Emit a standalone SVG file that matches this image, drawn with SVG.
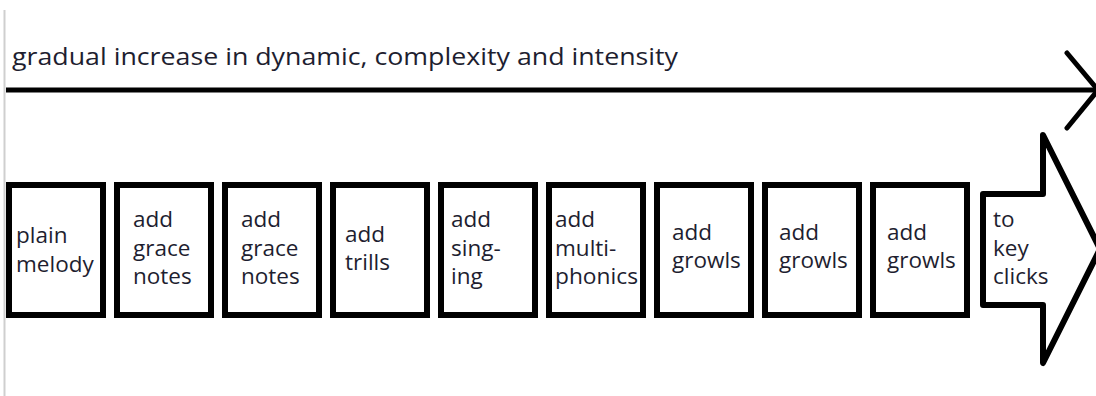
<svg xmlns="http://www.w3.org/2000/svg" width="1096" height="396" viewBox="0 0 1096 396">
<style>
.box{fill:#fff;stroke:#000;stroke-width:6}
.t{font-family:"Open Sans","Liberation Sans",sans-serif;font-size:22.5px;fill:#1e1e30}
.title{font-family:"Open Sans","Liberation Sans",sans-serif;font-size:24px;fill:#1e1e30}
.ln{stroke:#000;stroke-width:5;fill:none}
</style>
<rect width="1096" height="396" fill="#fff"/>
<line x1="4.5" y1="10" x2="4.5" y2="396" stroke="#cfcfcf" stroke-width="2"/>
<text class="title" x="12" y="65" textLength="666" lengthAdjust="spacingAndGlyphs">gradual increase in dynamic, complexity and intensity</text>
<g id="connectors">
<line class="ln" x1="6" y1="90" x2="1096" y2="90"/>
<polyline class="ln" points="1067,53 1098,90 1067,128" stroke-linecap="round"/>
</g>
<g id="n1"><rect class="box" x="9" y="185" width="94" height="130"/><text class="t" x="16" y="243">plain</text><text class="t" x="16" y="272">melody</text></g>
<g id="n2"><rect class="box" x="117" y="185" width="94" height="130"/><text class="t" x="133" y="227">add</text><text class="t" x="133" y="255.5">grace</text><text class="t" x="133" y="284">notes</text></g>
<g id="n3"><rect class="box" x="225" y="185" width="94" height="130"/><text class="t" x="241" y="227">add</text><text class="t" x="241" y="255.5">grace</text><text class="t" x="241" y="284">notes</text></g>
<g id="n4"><rect class="box" x="333" y="185" width="94" height="130"/><text class="t" x="345" y="242">add</text><text class="t" x="345" y="270">trills</text></g>
<g id="n5"><rect class="box" x="441" y="185" width="94" height="130"/><text class="t" x="451" y="227">add</text><text class="t" x="451" y="255.5">sing-</text><text class="t" x="451" y="284">ing</text></g>
<g id="n6"><rect class="box" x="549" y="185" width="94" height="130"/><text class="t" x="555" y="227">add</text><text class="t" x="555" y="255.5">multi-</text><text class="t" x="555" y="284" textLength="83" lengthAdjust="spacingAndGlyphs">phonics</text></g>
<g id="n7"><rect class="box" x="657" y="185" width="94" height="130"/><text class="t" x="672" y="240">add</text><text class="t" x="672" y="268">growls</text></g>
<g id="n8"><rect class="box" x="765" y="185" width="94" height="130"/><text class="t" x="779" y="240">add</text><text class="t" x="779" y="268">growls</text></g>
<g id="n9"><rect class="box" x="873" y="185" width="94" height="130"/><text class="t" x="887" y="240">add</text><text class="t" x="887" y="268">growls</text></g>
<g id="n10"><polygon class="box" stroke-width="5" stroke-linejoin="round" points="983,194 1043,194 1043,135 1100,249 1043,363 1043,305 983,305"/><text class="t" x="993" y="227">to</text><text class="t" x="993" y="255.5">key</text><text class="t" x="993" y="284">clicks</text></g>
</svg>
